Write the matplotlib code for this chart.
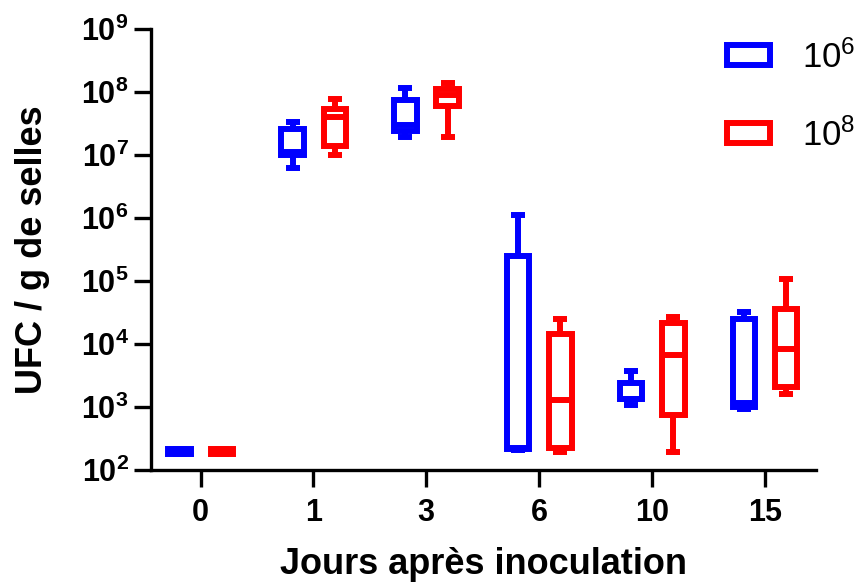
import numpy as np
import matplotlib.pyplot as plt
from matplotlib.patches import Rectangle
from matplotlib.ticker import FuncFormatter, NullLocator

plt.rcParams['font.family'] = ['Liberation Sans', 'DejaVu Sans']
plt.rcParams['font.weight'] = 'bold'
plt.rcParams['axes.labelweight'] = 'bold'

days = ['0', '1', '3', '6', '10', '15']
series = ['10^{6}', '10^{8}']
colors = ['#0000ff', '#ff0000']

# five-number summaries (UFC / g de selles)
low_min = [180, 6.2e6, 1.95e7, 210, 1.08e3, 930]
low_q1 = [180, 1.0e7, 2.38e7, 215, 1.35e3, 990]
low_med = [195, 1.1e7, 3.0e7, 225, 1.35e3, 1.16e3]
low_q3 = [215, 2.6e7, 7.5e7, 2.45e5, 2.42e3, 2.46e4]
low_max = [215, 3.4e7, 1.15e8, 1.12e6, 3.76e3, 3.17e4]

high_min = [180, 1.0e7, 1.95e7, 190, 190, 1.62e3]
high_q1 = [180, 1.39e7, 6.1e7, 225, 760, 2.07e3]
high_med = [195, 4.0e7, 9.1e7, 1.28e3, 6.7e3, 8.2e3]
high_q3 = [215, 5.4e7, 1.12e8, 1.42e4, 2.14e4, 3.63e4]
high_max = [215, 7.8e7, 1.38e8, 2.5e4, 2.7e4, 1.08e5]


def make_stats(mins, q1s, meds, q3s, maxs):
    return [dict(whislo=a, q1=b, med=c, q3=d, whishi=e, fliers=[])
            for a, b, c, d, e in zip(mins, q1s, meds, q3s, maxs)]


fig = plt.figure(figsize=(8.57, 5.85), dpi=100)
ax = fig.add_axes([151 / 857, 115 / 585, 665 / 857, 441 / 585])

lw = 4.3
x = np.arange(len(days))
groups = [make_stats(low_min, low_q1, low_med, low_q3, low_max),
          make_stats(high_min, high_q1, high_med, high_q3, high_max)]
for stats, c, off in zip(groups, colors, [-0.185, 0.19]):
    line = dict(color=c, linewidth=lw, solid_capstyle='butt')
    ax.bxp(stats, positions=x + off, widths=0.2, capwidths=0.124,
           patch_artist=True, showfliers=False, manage_ticks=False,
           boxprops=dict(facecolor='white', edgecolor=c, linewidth=lw),
           whiskerprops=line, capprops=line, medianprops=line)

ax.set_yscale('log')
ax.set_ylim(1e2, 1e9)
ax.set_xlim(-0.44, 5.455)
ax.yaxis.set_minor_locator(NullLocator())
ax.yaxis.set_major_formatter(
    FuncFormatter(lambda v, p: r'$\mathregular{10^{%d}}$' % round(np.log10(v))))
ax.set_xticks(x)
ax.set_xticklabels(days)

for s in ['top', 'right']:
    ax.spines[s].set_visible(False)
for s in ['left', 'bottom']:
    ax.spines[s].set_linewidth(2.4)
ax.tick_params(length=12, width=2.4, labelsize=22)
ax.tick_params(axis='y', pad=4)
ax.tick_params(axis='x', pad=8)

ax.set_xlabel('Jours après inoculation', fontsize=26, labelpad=14)
ax.set_ylabel('UFC / g de selles', fontsize=26, labelpad=22)

handles = [Rectangle((0, 0), 1, 1, facecolor='white', edgecolor=c, linewidth=lw)
           for c in colors]
labels = [r'$\mathregular{%s}$' % s for s in series]
ax.legend(handles, labels, loc='upper left', bbox_to_anchor=(727 / 857, 1 - 40 / 585),
          bbox_transform=fig.transFigure, frameon=False, borderpad=0,
          borderaxespad=0, prop=dict(size=25, weight='normal'),
          handlelength=1.25, handleheight=0.5, handletextpad=0.9,
          labelspacing=1.25)

fig.savefig('out.png', dpi=100)
